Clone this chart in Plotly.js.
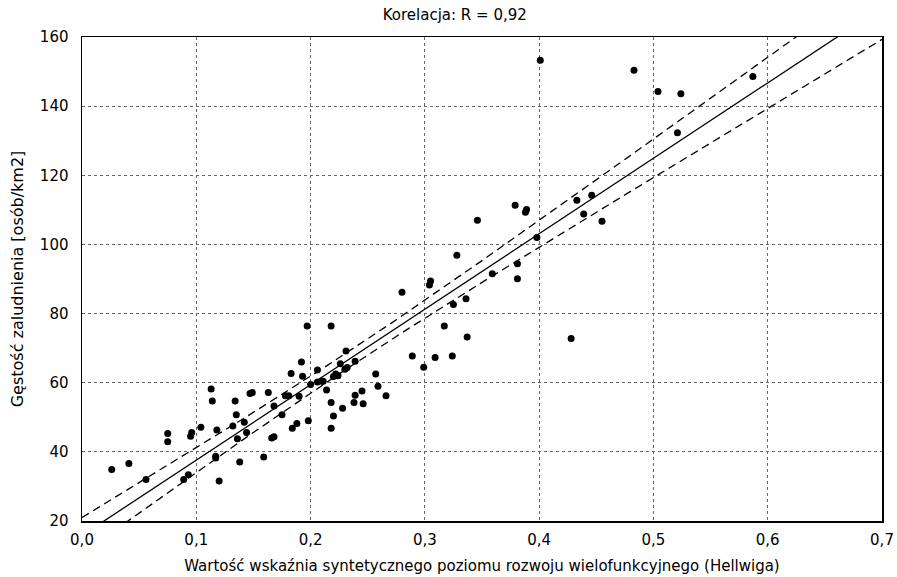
<!DOCTYPE html>
<html>
<head>
<meta charset="utf-8">
<script src="https://cdn.plot.ly/plotly-3.0.1.min.js"></script>
<style>
html,body{margin:0;padding:0;background:#fff;}
#chart{width:897px;height:577px;}
</style>
</head>
<body>
<div id="chart"></div>
<script>
const chartTitle = "Korelacja: R = 0,92";
const xTitle = "Wartość wskaźnia syntetycznego poziomu rozwoju wielofunkcyjnego (Hellwiga)";
const yTitle = "Gęstość zaludnienia [osób/km2]";

const hellwigIndex = [
  0.026, 0.041, 0.056, 0.075, 0.075, 0.095, 0.096, 0.104, 0.089, 0.093,
  0.113, 0.114, 0.117, 0.117, 0.120, 0.118, 0.134, 0.135, 0.132, 0.136,
  0.142, 0.144, 0.138, 0.147, 0.149, 0.197, 0.218, 0.159, 0.163, 0.166,
  0.168, 0.168, 0.175, 0.178, 0.181, 0.184, 0.188, 0.190, 0.192, 0.193,
  0.183, 0.198, 0.200, 0.206, 0.206, 0.210, 0.211, 0.214, 0.218, 0.220,
  0.218, 0.220, 0.222, 0.224, 0.228, 0.226, 0.230, 0.232, 0.231, 0.239,
  0.238, 0.239, 0.245, 0.246, 0.257, 0.259, 0.266, 0.379, 0.346, 0.328,
  0.381, 0.381, 0.359, 0.305, 0.304, 0.280, 0.336, 0.325, 0.317, 0.337,
  0.289, 0.309, 0.324, 0.299, 0.401, 0.483, 0.504, 0.524, 0.521, 0.433,
  0.446, 0.439, 0.455, 0.398, 0.428, 0.388, 0.389, 0.587
];
const popDensity = [
  34.9, 36.6, 32.0, 45.3, 42.9, 44.5, 45.6, 47.1, 32.0, 33.4,
  58.2, 54.7, 38.7, 38.2, 31.6, 46.3, 54.7, 50.7, 47.5, 43.8,
  48.6, 45.6, 37.1, 56.9, 57.2, 76.4, 76.4, 38.5, 57.2, 44.0,
  44.4, 53.3, 50.7, 56.2, 56.2, 46.8, 48.2, 56.1, 66.0, 61.9,
  62.7, 49.0, 59.5, 63.7, 60.2, 60.4, 60.4, 57.9, 54.3, 50.4,
  46.8, 61.8, 62.5, 62.0, 52.6, 65.5, 63.9, 64.4, 69.2, 66.2,
  54.3, 56.4, 57.6, 53.9, 62.5, 59.0, 56.2, 111.3, 107.0, 96.9,
  94.4, 90.1, 91.5, 89.4, 88.3, 86.2, 84.3, 82.6, 76.4, 73.2,
  67.7, 67.3, 67.7, 64.5, 153.3, 150.4, 144.2, 143.6, 132.3, 112.8,
  114.2, 108.8, 106.7, 102.0, 72.8, 109.3, 110.1, 148.6
];

// Linear regression with 95% confidence band for the mean, computed from the data
const n = hellwigIndex.length;
const mx = hellwigIndex.reduce((a, b) => a + b, 0) / n;
const my = popDensity.reduce((a, b) => a + b, 0) / n;
let sxx = 0, sxy = 0;
for (let i = 0; i < n; i++) {
  sxx += (hellwigIndex[i] - mx) ** 2;
  sxy += (hellwigIndex[i] - mx) * (popDensity[i] - my);
}
const slope = sxy / sxx;
const intercept = my - slope * mx;
let sse = 0;
for (let i = 0; i < n; i++) {
  const r = popDensity[i] - (intercept + slope * hellwigIndex[i]);
  sse += r * r;
}
const s = Math.sqrt(sse / (n - 2));
const tCrit = 1.985;

const lineX = [], fitY = [], upY = [], loY = [];
for (let k = 0; k <= 140; k++) {
  const x = k * 0.005;
  const f = intercept + slope * x;
  const h = tCrit * s * Math.sqrt(1 / n + (x - mx) ** 2 / sxx);
  lineX.push(x); fitY.push(f); upY.push(f + h); loY.push(f - h);
}

const fontFam = "'DejaVu Sans', Arial, sans-serif";

const traces = [
  {x: lineX, y: upY, mode: 'lines', line: {color: '#000', width: 1.3, dash: '8px,5px'}, hoverinfo: 'skip'},
  {x: lineX, y: loY, mode: 'lines', line: {color: '#000', width: 1.3, dash: '8px,5px'}, hoverinfo: 'skip'},
  {x: lineX, y: fitY, mode: 'lines', line: {color: '#000', width: 1.3}, hoverinfo: 'skip'},
  {x: hellwigIndex, y: popDensity, mode: 'markers', marker: {color: '#000', size: 7}, cliponaxis: false}
];

const layout = {
  width: 897, height: 577,
  margin: {l: 82, r: 15, t: 37, b: 56},
  paper_bgcolor: '#fff', plot_bgcolor: '#fff',
  showlegend: false,
  separators: ', ',
  font: {family: fontFam, size: 15, color: '#000'},
  title: {text: chartTitle, font: {family: fontFam, size: 15, color: '#000'},
          xref: 'container', x: 0.507, xanchor: 'center', yref: 'container', y: 0.974, yanchor: 'middle'},
  xaxis: {
    range: [0, 0.7], dtick: 0.1, tick0: 0, tickformat: '.1f',
    showgrid: true, gridcolor: '#666', griddash: 'dot', gridwidth: 1,
    zeroline: false, showline: true, linecolor: '#000', linewidth: 1.5, mirror: true,
    ticks: '', ticklabelstandoff: 4,
    tickfont: {family: fontFam, size: 15, color: '#000'},
    title: {text: xTitle, font: {family: fontFam, size: 15, color: '#000'}, standoff: 13}
  },
  yaxis: {
    range: [20, 160], dtick: 20, tick0: 20,
    showgrid: true, gridcolor: '#666', griddash: 'dot', gridwidth: 1,
    zeroline: false, showline: true, linecolor: '#000', linewidth: 1.5, mirror: true,
    ticks: '', ticklabelstandoff: 9,
    tickfont: {family: fontFam, size: 15, color: '#000'},
    title: {text: yTitle, font: {family: fontFam, size: 16, color: '#000'}, standoff: 12}
  }
};

Plotly.newPlot('chart', traces, layout, {displayModeBar: false, staticPlot: true});
</script>
</body>
</html>
